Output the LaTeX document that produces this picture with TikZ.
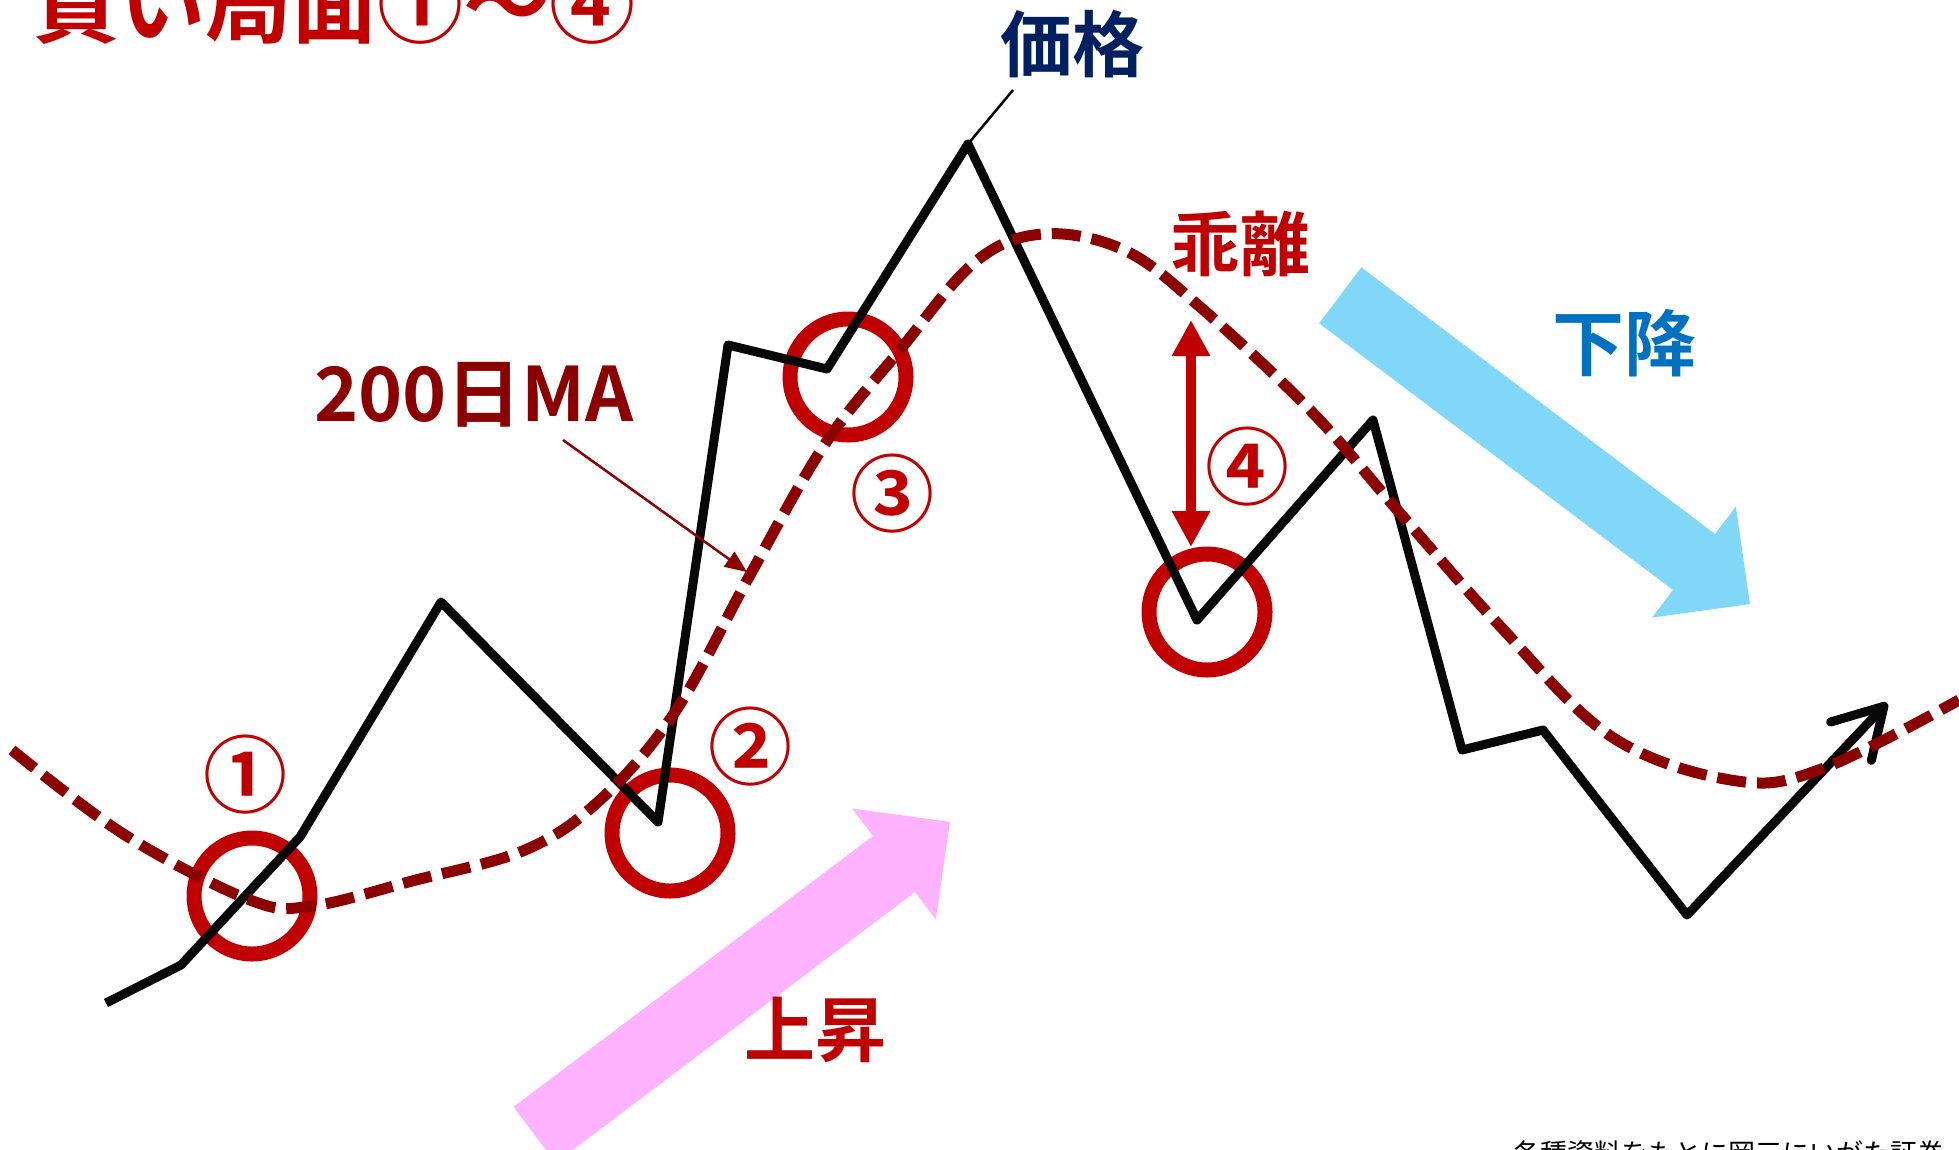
\documentclass[tikz,border=0pt]{standalone}
\usepackage{fontspec}
\setmainfont{Noto Sans CJK JP}[BoldFont={Noto Sans CJK JP Bold}]
\usepackage{tikz}
\usetikzlibrary{arrows.meta}
\definecolor{kred}{HTML}{C00000}
\definecolor{mared}{HTML}{8B0000}
\definecolor{pricenavy}{HTML}{002060}
\definecolor{downblue}{HTML}{0070C0}
\definecolor{uppink}{HTML}{FFB3FF}
\definecolor{downsky}{HTML}{80D7F7}
\tikzset{
price/.style={line width=9pt, black!97, line join=round},
ma/.style={line width=11pt, mared, dash pattern=on 29pt off 11pt},
ring/.style={circle, draw=kred, line width=15pt, minimum size=116pt, inner sep=0pt},
maru/.style={text=kred, inner sep=0pt, font=\bfseries\fontsize{84}{84}\selectfont},
bigtext/.style={inner sep=0pt, font=\bfseries\fontsize{#1}{#1}\selectfont},
bigtext/.default=72,
}

\begin{document}
\begin{tikzpicture}[x=1pt,y=-1pt]
\useasboundingbox (0,0) rectangle (1959,1149);
\clip (0,0) rectangle (1959,1149);
\fill[white] (0,0) rectangle (1959,1149);
% the trend arrows
\begin{scope}[shift={(894,864)},rotate=37]
\fill[uppink] (-450,35) -- (0,35) -- (0,69.5) -- (70,0) -- (0,-69.5) -- (0,-35) -- (-450,-35) -- cycle;
\end{scope}
\begin{scope}[shift={(1694,562)},rotate=-37]
\fill[downsky] (-443,35) -- (0,35) -- (0,69.5) -- (70,0) -- (0,-69.5) -- (0,-35) -- (-443,-35) -- cycle;
\end{scope}
% the buy points
\foreach \n/\x/\y in {1/252/896, 2/670/833, 3/848/377, 4/1207/612}
  \node[ring] (r\n) at (\x,\y) {};
% the price
\coordinate (p0) at (106,1003);
\coordinate (p1) at (181,965);
\coordinate (p2) at (300,837);
\coordinate (p3) at (441,602);
\coordinate (p4) at (658,822);
\coordinate (p5) at (728,345);
\coordinate (p6) at (827,369);
\coordinate (p7) at (968,144);
\coordinate (p8) at (1197,620);
\coordinate (p9) at (1373,420);
\coordinate (p10) at (1462,750);
\coordinate (p11) at (1543,730);
\coordinate (p12) at (1687,915);
\coordinate (p13) at (1887,703);
\draw[price,-{Straight Barb[length=48pt,width=56pt,round]}]
  (p0) -- (p1) -- (p2) -- (p3) -- (p4) -- (p5) -- (p6) -- (p7) -- (p8)
  -- (p9) -- (p10) -- (p11) -- (p12) -- (p13);
% the 200 day line
\draw[ma] plot[smooth,tension=0.6] coordinates {
  (12,750) (125,835) (250,900) (312,906) (412,881) (525,850) (600,800)
  (675,712) (750,575) (825,444) (900,350) (975,262) (1043,234) (1124,250)
  (1199,306) (1312,412) (1399,512) (1499,625) (1612,737) (1737,781)
  (1824,768) (1959,700)};
% the gap
\coordinate (gt) at (1191,320);
\coordinate (gb) at (1191,547);
\draw[kred, line width=10pt, {Triangle[length=36pt,width=36pt]}-{Triangle[length=36pt,width=36pt]}] (gt) -- (gb);
% the numbers
\foreach \c/\x/\y in {①/245/775, ②/750/747, ③/892/494, ④/1247/467}
  \node[maru] at (\x,\y) {\c};
% the texts
\node[bigtext=86, kred, anchor=base west] (title) at (33,36) {買い局面①～④};
\node[bigtext, pricenavy] (kakaku) at (1072,44) {価格};
\node[bigtext=75, mared] (malabel) at (474,395) {200日MA};
\node[bigtext=70, kred] (kairi) at (1240,244) {乖離};
\node[bigtext, downblue] (geraku) at (1624,343) {下降};
\node[bigtext=71, kred] (joshou) at (815,1030) {上昇};
\node[inner sep=0pt, anchor=base west, font=\fontsize{27}{27}\selectfont] (src) at (1513,1163) {各種資料をもとに岡三にいがた証券};
% the leaders
\coordinate (kl) at (1013,90);
\draw[line width=2.5pt] (kl) -- (p7);
\coordinate (ml) at (563,440);
\coordinate (mt) at (747,572);
\draw[mared, line width=2.5pt, -{Triangle[length=22pt,width=18pt]}] (ml) -- (mt);
\end{tikzpicture}
\end{document}
